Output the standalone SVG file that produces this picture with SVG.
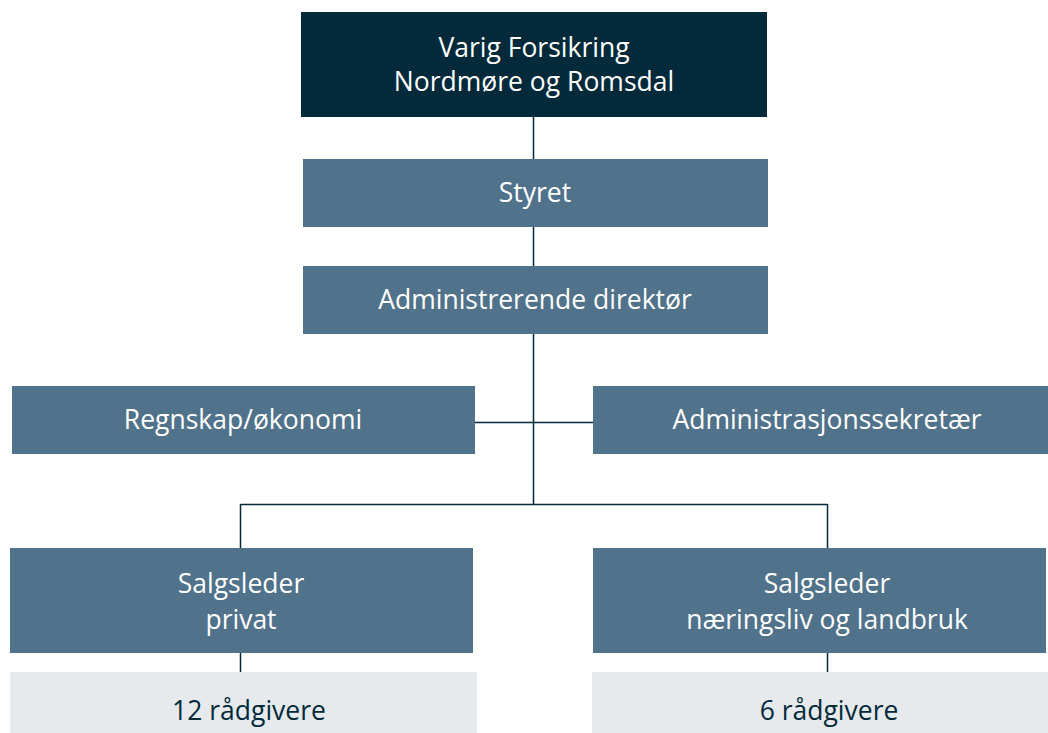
<svg xmlns="http://www.w3.org/2000/svg" width="1048" height="733" viewBox="0 0 1048 733">
<style>
.dark{fill:#022a3b}
.mid{fill:#50728a}
.light{fill:#e6eaec}
.t{font-family:"Open Sans","Liberation Sans",sans-serif;font-size:26.5px;text-anchor:middle;fill:#ffffff}
.td{font-family:"Open Sans","Liberation Sans",sans-serif;font-size:26.5px;text-anchor:middle;fill:#022a3b}
.ln{stroke:#022a3b;stroke-width:1.5;fill:none}
</style>
<rect width="1048" height="733" fill="#ffffff"/>
<g id="connectors">
<path class="ln" d="M533.5 117V504M475 422.5H593M240.5 504.5H827.5M240.5 504V548M827.5 504V548M240.5 653V672M827.5 653V672"/>
</g>
<g id="n-top"><rect class="dark" x="301" y="12" width="466" height="105"/><text class="t" x="534" y="57">Varig Forsikring</text><text class="t" x="534" y="91">Nordmøre og Romsdal</text></g>
<g id="n-styret"><rect class="mid" x="303" y="159" width="465" height="68"/><text class="t" x="535" y="202">Styret</text></g>
<g id="n-adm"><rect class="mid" x="303" y="266" width="465" height="68"/><text class="t" x="535" y="309">Administrerende direktør</text></g>
<g id="n-regnskap"><rect class="mid" x="12" y="386" width="463" height="68"/><text class="t" x="243" y="429">Regnskap/økonomi</text></g>
<g id="n-sekretaer"><rect class="mid" x="593" y="386" width="455" height="68"/><text class="t" x="827" y="429">Administrasjonssekretær</text></g>
<g id="n-privat"><rect class="mid" x="10" y="548" width="463" height="105"/><text class="t" x="241" y="593">Salgsleder</text><text class="t" x="241" y="629">privat</text></g>
<g id="n-naering"><rect class="mid" x="593" y="548" width="453" height="105"/><text class="t" x="827" y="593">Salgsleder</text><text class="t" x="827" y="629">næringsliv og landbruk</text></g>
<g id="n-12"><rect class="light" x="10" y="672" width="467" height="61"/><text class="td" x="249" y="720">12 rådgivere</text></g>
<g id="n-6"><rect class="light" x="592" y="672" width="456" height="61"/><text class="td" x="829" y="720">6 rådgivere</text></g>
</svg>
